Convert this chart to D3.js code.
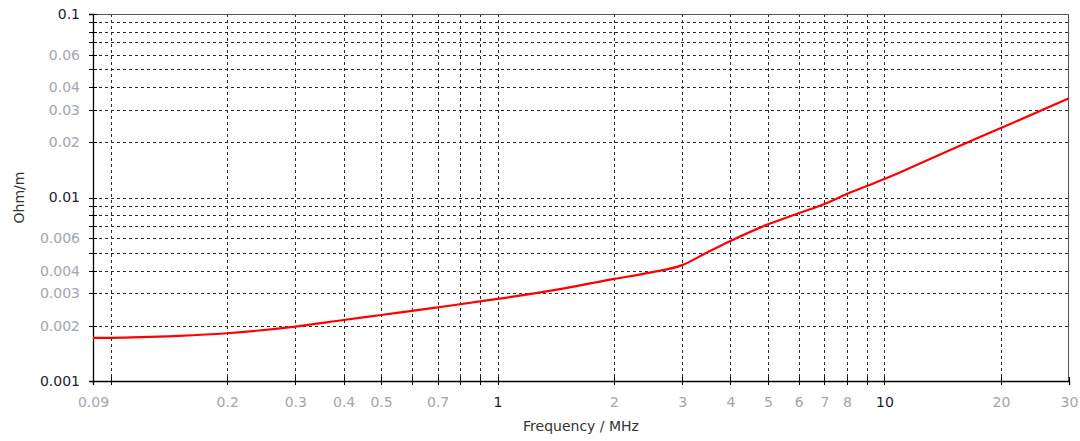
<!DOCTYPE html>
<html>
<head>
<meta charset="utf-8">
<script src="https://cdn.jsdelivr.net/npm/d3@7"></script>
<style>
  body { margin: 0; background: #fff; }
  svg { display: block; font-family: "DejaVu Sans", Verdana, sans-serif; }
</style>
</head>
<body>
<svg width="1080" height="441"></svg>
<script>
// curve
const freqMHz = [0.09, 0.1, 0.15, 0.2, 0.3, 0.4, 0.5, 0.7, 1, 1.5, 2, 2.5, 3, 3.5, 4, 5, 6, 7, 8, 10, 15, 20, 30];
const ohmPerM = [0.00172, 0.00172, 0.00176, 0.00182, 0.00198, 0.00215, 0.00229, 0.00252, 0.0028, 0.00321, 0.0036, 0.00391, 0.00428, 0.00505, 0.0058, 0.00714, 0.0082, 0.00922, 0.01045, 0.0126, 0.0184, 0.0239, 0.0347];

const xGrid = [0.1, 0.2, 0.3, 0.4, 0.5, 0.6, 0.7, 0.8, 0.9, 1, 2, 3, 4, 5, 6, 7, 8, 9, 10, 20];
const xLabels = [0.09, 0.2, 0.3, 0.4, 0.5, 0.7, 1, 2, 3, 4, 5, 6, 7, 8, 10, 20, 30];
const yGrid = [0.002, 0.003, 0.004, 0.005, 0.006, 0.007, 0.008, 0.009, 0.01, 0.02, 0.03, 0.04, 0.05, 0.06, 0.07, 0.08, 0.09];
const yLabels = [0.001, 0.002, 0.003, 0.004, 0.006, 0.01, 0.02, 0.03, 0.04, 0.06, 0.1];
const decades = [0.001, 0.01, 0.1, 1, 10];

var svg = d3.select("svg");
var margin = { left: 93, right: 11, top: 14, bottom: 60 };
var width = 1080 - margin.left - margin.right;
var height = 441 - margin.top - margin.bottom;

var x = d3.scaleLog().domain([0.09, 30]).range([0, width]);
var y = d3.scaleLog().domain([0.001, 0.1]).range([height, 0]);

var g = svg.append("g").attr("transform", `translate(${margin.left},${margin.top})`);

var isDecade = (v) => decades.some((d) => Math.abs(d - v) < 1e-9);
var fmt = (v) => String(+v.toPrecision(3));
var px = (v) => Math.round(v) + 0.5;

// dashed grid
g.append("g")
  .selectAll("line")
  .data(xGrid)
  .enter()
  .append("line")
  .attr("x1", (d) => px(x(d)))
  .attr("x2", (d) => px(x(d)))
  .attr("y1", 0)
  .attr("y2", height)
  .attr("stroke", "#2a2a2a")
  .attr("stroke-dasharray", "3,3")
  .attr("shape-rendering", "crispEdges");

g.append("g")
  .selectAll("line")
  .data(yGrid)
  .enter()
  .append("line")
  .attr("x1", 0)
  .attr("x2", width)
  .attr("y1", (d) => px(y(d)))
  .attr("y2", (d) => px(y(d)))
  .attr("stroke", "#2a2a2a")
  .attr("stroke-dasharray", "3,3")
  .attr("shape-rendering", "crispEdges");

// frame top/right
g.append("line").attr("x1", 0).attr("x2", width).attr("y1", 0.5).attr("y2", 0.5)
  .attr("stroke", "#555").attr("shape-rendering", "crispEdges");
g.append("line").attr("x1", width - 0.5).attr("x2", width - 0.5).attr("y1", 0).attr("y2", height)
  .attr("stroke", "#555").attr("shape-rendering", "crispEdges");

// axes
var xAxis = g.append("g")
  .attr("transform", `translate(0,${height})`)
  .call(d3.axisBottom(x).tickValues([0.09].concat(xGrid, [30])).tickSize(4).tickPadding(12)
    .tickFormat((d) => (xLabels.some((v) => Math.abs(v - d) < 1e-9) ? fmt(d) : "")));

var yAxis = g.append("g")
  .call(d3.axisLeft(y).tickValues([0.001].concat(yGrid, [0.1])).tickSize(4).tickPadding(9)
    .tickFormat((d) => (yLabels.some((v) => Math.abs(v - d) < 1e-9) ? fmt(d) : "")));

[xAxis, yAxis].forEach((a) => {
  a.select(".domain").attr("stroke", "#000").attr("stroke-width", 1.3);
  a.selectAll(".tick line").attr("stroke", "#000").attr("shape-rendering", "crispEdges");
  a.selectAll(".tick text")
    .attr("font-size", "14px")
    .attr("font-family", '"DejaVu Sans", Verdana, sans-serif')
    .attr("fill", (d) => (isDecade(d) ? "#1c1c30" : "#a2a6ad"));
});
// ticks cross the axis line a little
xAxis.selectAll(".tick line").attr("y1", -4);
yAxis.selectAll(".tick line").attr("x1", 4);

// curve
var line = d3.line()
  .x((d, i) => x(freqMHz[i]))
  .y((d) => y(d))
  .curve(d3.curveMonotoneX);

g.append("path")
  .datum(ohmPerM)
  .attr("fill", "none")
  .attr("stroke", "#ff0000")
  .attr("stroke-width", 2.2)
  .attr("d", line);

// axis titles
svg.append("text")
  .attr("x", margin.left + width / 2)
  .attr("y", 431)
  .attr("text-anchor", "middle")
  .attr("font-size", "14px")
  .attr("fill", "#333")
  .text("Frequency / MHz");

svg.append("text")
  .attr("transform", `translate(24,${margin.top + height / 2}) rotate(-90)`)
  .attr("text-anchor", "middle")
  .attr("font-size", "14px")
  .attr("fill", "#333")
  .text("Ohm/m");
</script>
</body>
</html>
